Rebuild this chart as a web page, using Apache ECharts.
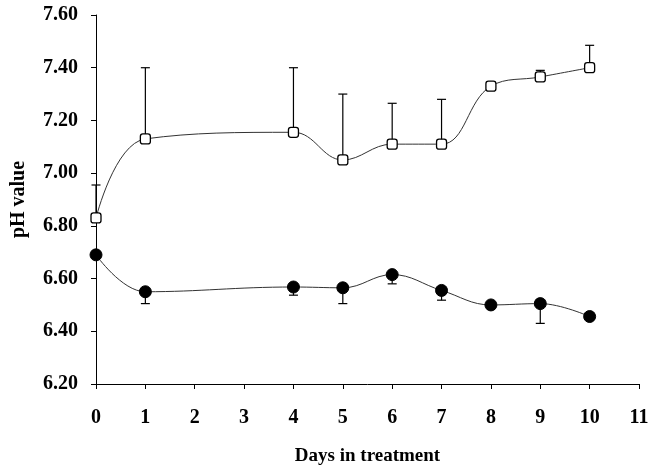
<!DOCTYPE html>
<html><head><meta charset="utf-8">
<script src="https://cdn.jsdelivr.net/npm/echarts@6/dist/echarts.min.js"></script>
<style>html,body{margin:0;padding:0;background:#fff}#c{width:649px;height:465px}</style>
</head><body><div id="c"></div>
<script>
var days = [0, 1, 4, 5, 6, 7, 8, 9, 10];
var openVals = [6.83, 7.13, 7.155, 7.05, 7.11, 7.11, 7.33, 7.365, 7.40];
var openErrTop = [6.955, 7.40, 7.40, 7.30, 7.265, 7.28, 7.33, 7.39, 7.485];
var filledVals = [6.69, 6.55, 6.568, 6.565, 6.615, 6.555, 6.50, 6.505, 6.456];
var filledErrBottom = [6.69, 6.505, 6.537, 6.505, 6.58, 6.518, 6.50, 6.43, 6.456];
var xTicks = [0,1,2,3,4,5,6,7,8,9,10,11];

var openData = days.map(function(d,i){return [d, openVals[i]];});
var filledData = days.map(function(d,i){return [d, filledVals[i]];});
var openErr = days.map(function(d,i){return [d, openVals[i], openErrTop[i]];});
var filledErr = days.map(function(d,i){return [d, filledVals[i], filledErrBottom[i]];});

function errRender(params, api){
  var x = api.value(0), a = api.value(1), b = api.value(2);
  if (Math.abs(a-b) < 1e-6) return null;
  var p1 = api.coord([x,a]), p2 = api.coord([x,b]);
  var hw = 4.5;
  return {type:'group', children:[
    {type:'line', shape:{x1:p1[0],y1:p1[1],x2:p2[0],y2:p2[1]}, style:{stroke:'#000',lineWidth:1.2}},
    {type:'line', shape:{x1:p2[0]-hw,y1:p2[1],x2:p2[0]+hw,y2:p2[1]}, style:{stroke:'#000',lineWidth:1.2}}
  ]};
}

var font = 'Liberation Serif';
var chart = echarts.init(document.getElementById('c'));
chart.setOption({
  animation:false,
  backgroundColor:'#fff',
  grid:{left:96,right:10,top:15,bottom:81,containLabel:false,outerBoundsMode:'none'},
  xAxis:{type:'value',min:0,max:11,interval:1,
    axisLine:{lineStyle:{color:'#000',width:1}},
    axisTick:{show:true,length:5,lineStyle:{color:'#000'}},
    axisLabel:{color:'#000',fontFamily:font,fontWeight:'bold',fontSize:20,margin:24,
      formatter:function(v){return xTicks.indexOf(v)>=0?String(v):'';}},
    splitLine:{show:false},
    name:'Days in treatment',nameLocation:'middle',nameGap:63,
    nameTextStyle:{color:'#000',fontFamily:font,fontWeight:'bold',fontSize:19}
  },
  yAxis:{type:'value',min:6.2,max:7.6,interval:0.2,
    axisLine:{show:true,lineStyle:{color:'#000',width:1}},
    axisTick:{show:true,length:5,lineStyle:{color:'#000'}},
    axisLabel:{color:'#000',fontFamily:font,fontWeight:'bold',fontSize:20,margin:18,
      formatter:function(v){return v.toFixed(2);}},
    splitLine:{show:false},
    name:'pH value',nameLocation:'middle',nameGap:67,nameRotate:90,
    nameTextStyle:{color:'#000',fontFamily:font,fontWeight:'bold',fontSize:20}
  },
  series:[
    {type:'custom',renderItem:errRender,data:openErr,z:1,encode:{x:0,y:[1,2]}},
    {type:'custom',renderItem:errRender,data:filledErr,z:1,encode:{x:0,y:[1,2]}},
    {type:'line',data:openData,smooth:0.4,symbol:'roundRect',symbolSize:10,
      lineStyle:{color:'#333',width:1},
      itemStyle:{color:'#fff',borderColor:'#000',borderWidth:1.3},z:3},
    {type:'line',data:filledData,smooth:0.4,symbol:'circle',symbolSize:12,
      lineStyle:{color:'#333',width:1},
      itemStyle:{color:'#000',borderColor:'#000',borderWidth:1},z:3}
  ]
});
</script></body></html>
